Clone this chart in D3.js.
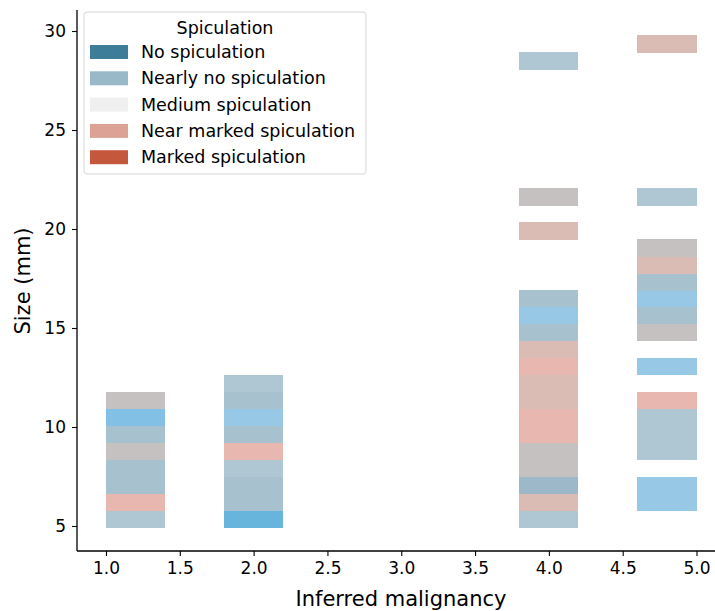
<!DOCTYPE html>
<html>
<head>
<meta charset="utf-8">
<script src="https://cdn.jsdelivr.net/npm/d3@7"></script>
<style>
body { margin: 0; background: #fff; }
text { font-family: "DejaVu Sans", sans-serif; fill: #000; }
</style>
</head>
<body>
<script>
// bins of the 2d histogram
var binWidthX = 0.4;
var yBinStart = 4.914, yBinHeight = 0.8575;

// one entry per filled cell: x bin start, y bin index, tone
var cellX    = [1.0,1.0,1.0,1.0,1.0,1.0,1.0,1.0,
                1.8,1.8,1.8,1.8,1.8,1.8,1.8,1.8,1.8,
                3.8,3.8,3.8,3.8,3.8,3.8,3.8,3.8,3.8,3.8,3.8,3.8,3.8,3.8,3.8,3.8,3.8,
                4.6,4.6,4.6,4.6,4.6,4.6,4.6,4.6,4.6,4.6,4.6,4.6,4.6,4.6,4.6];
var cellBin  = [0,1,2,3,4,5,6,7,
                0,1,2,3,4,5,6,7,8,
                0,1,2,3,4,5,6,7,8,9,10,11,12,13,17,19,27,
                1,2,4,5,6,7,9,11,12,13,14,15,16,19,28];
var cellTone = ["lbg","pink","bg","bg","gray","bg","sky","gray",
                "skyStrong","bg","bg","lbg","pink","bg","skyLight","bg","lbg",
                "lbg","dusty","dbg","gray","gray","pink","pink","dusty","dusty","pink","dusty","bg","skyLight","bg","dusty","gray","lbg",
                "skyLight","skyLight","lbg","lbg","lbg","pink","skyLight","gray","bg","skyLight","bg","dusty","gray","lbg","dusty"];

var tones      = ["lbg","bg","dbg","gray","pink","dusty","sky","skyLight","skyStrong"];
var toneColors = ["#afc6d3","#a8c1ce","#9db8c8","#c5c1c0","#e7b7b0","#dbbcb4","#82c1e5","#97c9e6","#67b5dc"];

var legendLabels = ["No spiculation","Nearly no spiculation","Medium spiculation","Near marked spiculation","Marked spiculation"];
var legendColors = ["#3e7d9a","#99b8c8","#efefef","#dca296","#c5583c"];

var xTicks = [1.0,1.5,2.0,2.5,3.0,3.5,4.0,4.5,5.0];
var yTicks = [5,10,15,20,25,30];

var W = 715, H = 611;
var svg = d3.select("body").append("svg")
    .attr("width", W).attr("height", H);

var x = d3.scaleLinear().domain([1, 5]).range([106, 696.5]);
var y = d3.scaleLinear().domain([5, 30]).range([526, 31]);
var tone = d3.scaleOrdinal().domain(tones).range(toneColors);

var cells = cellX.map(function(d, i) {
    return {x0: d, y0: yBinStart + cellBin[i]*yBinHeight, tone: cellTone[i]};
});

svg.append("g").attr("shape-rendering", "crispEdges").selectAll("rect")
    .data(cells)
  .enter().append("rect")
    .attr("x", function(d){ return x(d.x0); })
    .attr("width", function(d){ return x(d.x0 + binWidthX) - x(d.x0); })
    .attr("y", function(d){ return y(d.y0 + yBinHeight); })
    .attr("height", function(d){ return y(d.y0) - y(d.y0 + yBinHeight) + 0.5; })
    .attr("fill", function(d){ return tone(d.tone); });

// axes
var xAxis = d3.axisBottom(x).tickValues(xTicks).tickFormat(d3.format(".1f")).tickSize(5).tickPadding(6);
var yAxis = d3.axisLeft(y).tickValues(yTicks).tickSize(5).tickPadding(6);

var gx = svg.append("g").attr("transform", "translate(0,551)").call(xAxis);
gx.select(".domain").attr("d", "M77,0H" + W);
var gy = svg.append("g").attr("transform", "translate(77,0)").call(yAxis);
gy.select(".domain").attr("d", "M0,10V551");

svg.selectAll(".domain").attr("stroke", "#000").attr("stroke-width", 1.3);
svg.selectAll(".tick line").attr("stroke", "#000").attr("stroke-width", 1.1);
svg.selectAll(".tick text").attr("font-size", 17).attr("font-family", "DejaVu Sans").attr("fill", "#000");

svg.append("text").attr("x", 401).attr("y", 606).attr("text-anchor", "middle")
    .attr("font-size", 21).text("Inferred malignancy");
svg.append("text").attr("transform", "translate(30,281) rotate(-90)")
    .attr("text-anchor", "middle").attr("font-size", 21).text("Size (mm)");

// legend
var lg = svg.append("g");
lg.append("rect").attr("x", 84).attr("y", 12).attr("width", 282).attr("height", 162)
    .attr("rx", 3).attr("fill", "#fff").attr("fill-opacity", 0.85)
    .attr("stroke", "#d6d6d6").attr("stroke-width", 1);
lg.append("text").attr("x", 225).attr("y", 34).attr("text-anchor", "middle")
    .attr("font-size", 17.5).text("Spiculation");
var item = lg.selectAll("g.item").data(legendLabels).enter().append("g")
    .attr("transform", function(d, i){ return "translate(0," + (52 + i*26.3) + ")"; });
item.append("rect").attr("x", 90).attr("y", -7).attr("width", 38).attr("height", 14)
    .attr("fill", function(d, i){ return legendColors[i]; });
item.append("text").attr("x", 141).attr("y", 6).attr("font-size", 17.5)
    .text(function(d){ return d; });
</script>
</body>
</html>
